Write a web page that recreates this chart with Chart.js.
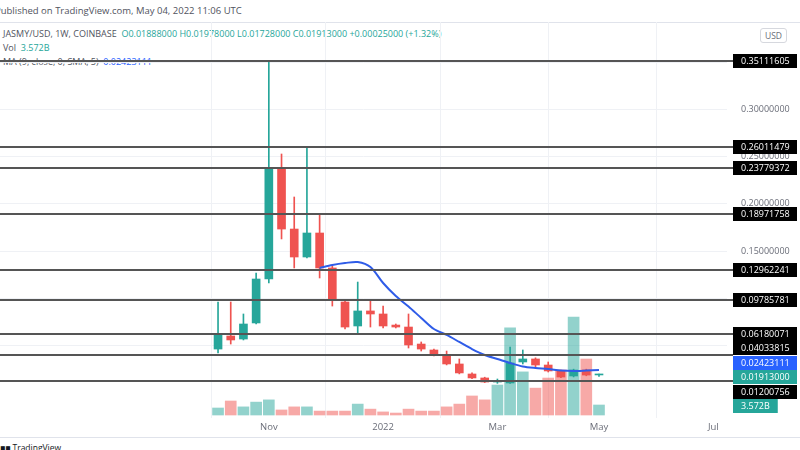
<!DOCTYPE html>
<html><head><meta charset="utf-8">
<script src="https://cdn.jsdelivr.net/npm/chart.js@4.4.1/dist/chart.umd.min.js"></script>
<style>
html,body{margin:0;padding:0;background:#fff;overflow:hidden;}
#wrap{position:relative;width:800px;height:450px;font-family:'Open Sans',sans-serif;overflow:hidden;}
canvas{position:absolute;left:0;top:0;}
.t{position:absolute;white-space:nowrap;font-size:9px;line-height:13px;color:#50535e;}
.hl{position:absolute;left:0;width:800px;height:1px;background:#e0e3eb;}
</style></head><body>
<div id="wrap">
<div class="t" style="left:-5px;top:4px;font-size:9.5px;">Published on TradingView.com, May 04, 2022 11:06 UTC</div>
<div class="hl" style="top:22px"></div>
<div class="t" style="left:3px;top:27px;">JASMY/USD, 1W, COINBASE&nbsp; <span style="color:#26a69a">O0.01888000 H0.01978000 L0.01728000 C0.01913000 +0.00025000 (+1.32%)</span></div>
<div class="t" style="left:3px;top:41px;">Vol&nbsp; <span style="color:#26a69a">3.572B</span></div>
<div class="t" style="left:3px;top:55px;">MA (9, close, 0, SMA, 5)&nbsp; <span style="color:#2962ff">0.02423111</span></div>
<div class="t" style="left:760px;top:28px;font-size:8.5px;line-height:13px;border:1px solid #d6d8de;border-radius:3px;padding:0 4px;color:#6a6d78;">USD</div>
<div class="hl" style="top:437px"></div>
<div class="t" style="left:0;top:441px;font-size:8.5px;color:#131722;font-weight:bold;">&#9632;&#9632; <span style="font-weight:normal">TradingView</span></div>
<canvas id="c" width="800" height="450"></canvas>
</div>
<script>
// Weekly candles (week start dates)
const weeks = ['2021-10-04','2021-10-11','2021-10-18','2021-10-25','2021-11-01','2021-11-08','2021-11-15','2021-11-22','2021-11-29','2021-12-06','2021-12-13','2021-12-20','2021-12-27','2022-01-03','2022-01-10','2022-01-17','2022-01-24','2022-01-31','2022-02-07','2022-02-14','2022-02-21','2022-02-28','2022-03-07','2022-03-14','2022-03-21','2022-03-28','2022-04-04','2022-04-11','2022-04-18','2022-04-25','2022-05-02'];
const opens  = [0.0463,0.0601,0.0569,0.0739,0.1204,0.2378,0.1733,0.1437,0.1691,0.1321,0.0961,0.0707,0.0866,0.0834,0.0717,0.0696,0.0516,0.0453,0.0400,0.0305,0.0199,0.0157,0.0114,0.0104,0.0326,0.0358,0.0294,0.0231,0.0178,0.0241,0.01888];
const highs  = [0.0961,0.0961,0.0834,0.1268,0.3511,0.2527,0.2072,0.2601,0.1881,0.1340,0.0978,0.1172,0.0971,0.0918,0.0728,0.0834,0.0538,0.0463,0.0442,0.0358,0.0210,0.0165,0.0146,0.0485,0.0453,0.0370,0.0326,0.0240,0.0250,0.0250,0.01978];
const lows   = [0.0421,0.0516,0.0559,0.0728,0.1162,0.1628,0.1321,0.1426,0.1215,0.0918,0.0675,0.0622,0.0696,0.0686,0.0686,0.0474,0.0442,0.0390,0.0295,0.0200,0.0150,0.0108,0.0100,0.0098,0.0305,0.0273,0.0220,0.0160,0.0168,0.0180,0.01728];
const closes = [0.0612,0.0559,0.0728,0.1204,0.2378,0.1733,0.1437,0.1691,0.1321,0.0982,0.0696,0.0866,0.0834,0.0707,0.0696,0.0506,0.0463,0.0400,0.0305,0.0210,0.0157,0.0114,0.0125,0.0316,0.0358,0.0294,0.0231,0.0167,0.0241,0.0188,0.01913];
const volumesB = [2.5,5.0,2.9,4.6,5.4,1.8,2.9,2.9,1.4,1.4,1.4,3.9,2.1,1.1,0.7,2.1,1.4,1.4,2.9,3.9,6.8,5.4,10.7,31.1,15.4,9.6,13.2,16.1,35.0,20.0,3.572];
// MA(9) (null before it starts)
const ma9 = [null,null,null,null,null,null,null,null,0.1321,0.1352,0.1373,0.1384,0.1331,0.1162,0.1024,0.0913,0.0792,0.0675,0.0612,0.0538,0.0463,0.0400,0.0358,0.0315,0.0278,0.0262,0.0252,0.0236,0.0231,0.0236,0.02423111];
// Horizontal levels drawn on the chart
const levels = [0.35111605,0.26011479,0.23779372,0.18971758,0.12962241,0.09785781,0.06180071,0.04033815,0.01200756];
// Time-axis ticks (week index from first candle) and labels
const tickWeeks = [4,13,22,30,39];
const tickLabels = ['Nov','2022','Mar','May','Jul'];
const priceTicks = [0.05,0.10,0.15,0.20,0.25,0.30,0.35];

const UP='#26a69a', DN='#ef5350', UPV='rgba(38,166,154,0.5)', DNV='rgba(239,83,80,0.5)';
const idx = weeks.map((w,i)=>i);
const isUp = idx.map(i=>closes[i]>=opens[i]);
const FONT = "'Open Sans', sans-serif";
Chart.defaults.font.family = FONT;
Chart.defaults.font.size = 9;

const overlay = {
  id:'overlay',
  afterDatasetsDraw(chart){
    const {ctx, chartArea:a, scales:{y}} = chart;
    ctx.save();
    ctx.strokeStyle='#555555'; ctx.lineWidth=2;
    levels.forEach(v=>{
      const py=Math.round(y.getPixelForValue(v));
      ctx.beginPath(); ctx.moveTo(0,py); ctx.lineTo(a.right+6,py); ctx.stroke();
    });
    ctx.restore();
  },
  afterDraw(chart){
    const {ctx, chartArea:a, scales:{y,y2}} = chart;
    const last = closes.length-1;
    const items = levels.map(v=>({text:v.toFixed(8), want:y.getPixelForValue(v), bg:'#000'}));
    items.push({text:ma9[last].toFixed(8), want:y.getPixelForValue(ma9[last]), bg:'#2962ff'});
    items.push({text:closes[last].toFixed(8), want:y.getPixelForValue(closes[last]), bg:isUp[last]?UP:DN});
    items.push({text:volumesB[last].toFixed(3)+'B', want:y2.getPixelForValue(volumesB[last]), bg:isUp[last]?UP:DN, short:true});
    const h=14.5;
    items.sort((p,q)=>p.want-q.want);
    const cl=[];
    for(const it of items){
      cl.push({items:[it],sum:it.want});
      while(cl.length>1){
        const c=cl[cl.length-1], p=cl[cl.length-2];
        const cTop=c.sum/c.items.length-(c.items.length-1)/2*h;
        const pBot=p.sum/p.items.length+(p.items.length-1)/2*h;
        if(cTop-pBot<h){p.items.push(...c.items);p.sum+=c.sum;cl.pop();}else break;
      }
    }
    cl.forEach(c=>{const m=c.sum/c.items.length;c.items.forEach((it,i)=>it.y=m+(i-(c.items.length-1)/2)*h);});
    ctx.save();
    ctx.font='9px '+FONT; ctx.textBaseline='middle'; ctx.textAlign='left';
    const x0=a.right+6;
    items.forEach(it=>{
      const w = it.short ? ctx.measureText(it.text).width+16 : 64;
      ctx.fillStyle=it.bg;
      ctx.fillRect(x0, Math.round(it.y-7), w, 14);
      ctx.fillStyle='#fff';
      ctx.fillText(it.text, x0+8, it.y+0.5);
    });
    ctx.restore();
  }
};

new Chart(document.getElementById('c'), {
  type:'bar',
  data:{
    datasets:[
      {type:'line', label:'MA', order:0, data: idx.filter(i=>ma9[i]!==null).map(i=>({x:i,y:ma9[i]})),
       borderColor:'#2f5ce8', borderWidth:2, pointRadius:0, tension:0.3, yAxisID:'y'},
      {label:'body', order:1, grouped:false, barThickness:8, minBarLength:1, yAxisID:'y',
       data: idx.map(i=>({x:i,y:[opens[i],closes[i]]})),
       backgroundColor: idx.map(i=>isUp[i]?UP:DN)},
      {label:'wick', order:2, grouped:false, barThickness:1, yAxisID:'y',
       data: idx.map(i=>({x:i,y:[lows[i],highs[i]]})),
       backgroundColor: idx.map(i=>isUp[i]?UP:DN)},
      {label:'volume', order:3, grouped:false, barThickness:11, yAxisID:'y2',
       data: idx.map(i=>({x:i,y:volumesB[i]})),
       backgroundColor: idx.map(i=>isUp[i]?UPV:DNV)}
    ]
  },
  options:{
    animation:false, responsive:false, maintainAspectRatio:false,
    layout:{padding:{top:22,left:0,right:0,bottom:0}},
    plugins:{legend:{display:false}, tooltip:{enabled:false}},
    scales:{
      x:{type:'linear', min:-17.17, max:40.08, offset:false,
         afterBuildTicks:s=>{s.ticks=tickWeeks.map(v=>({value:v}));},
         afterFit:s=>{s.height=32;},
         ticks:{callback:v=>tickLabels[tickWeeks.indexOf(v)], autoSkip:false, maxRotation:0, padding:4, color:'#6a6d78', font:{size:9.5}},
         grid:{color:'#eff1f5', drawTicks:false}, border:{display:false}},
      y:{type:'linear', position:'right', min:-0.02667, max:0.39238,
         afterBuildTicks:s=>{s.ticks=priceTicks.map(v=>({value:v}));},
         afterFit:s=>{s.width=73;},
         ticks:{callback:v=>v.toFixed(8), padding:14, color:'#6a6d78', font:{size:9}},
         grid:{color:'#eff1f5', drawTicks:false}, border:{display:false}},
      y2:{type:'linear', display:false, min:-1.07, max:140.38}
    }
  },
  plugins:[overlay]
});
</script>
</body></html>
